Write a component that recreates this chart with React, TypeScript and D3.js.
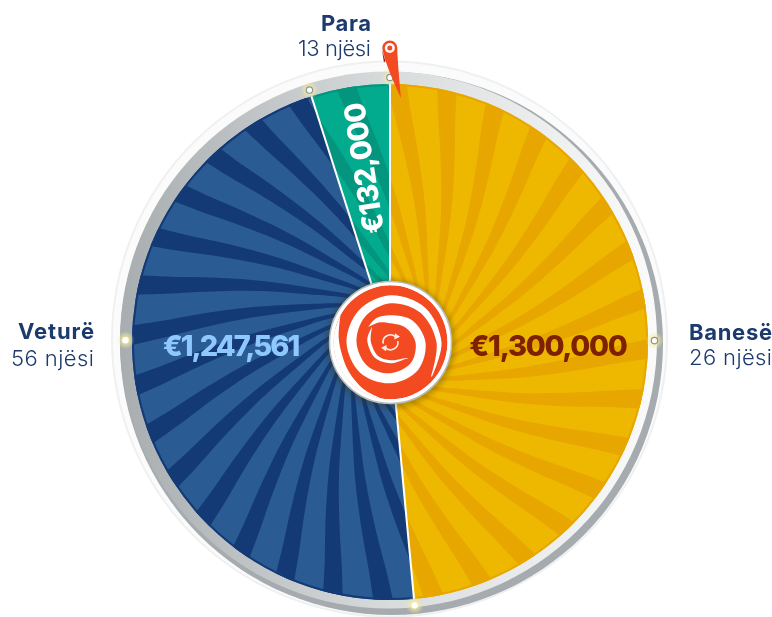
import React from "react";
import * as d3 from "d3";

const categories = ["Banesë", "Veturë", "Para"];
const amounts = [1300000, 1247561, 132000];
const amountLabels = ["€1,300,000", "€1,247,561", "€132,000"];
const unitLabels = ["26 njësi", "56 njësi", "13 njësi"];
const sliceColors = ["#eeb800", "#2a5b92", "#03ab8e"];
const rayColors = ["#e8a600", "#143a76", "#03957d"];
const amountColors = ["#7d2100", "#8ec8ff", "#ffffff"];
const rayCount = d3.range(32);
const twistStops: [number, number][] = [[264, -1.2], [230, 0.6], [200, 3], [170, 6], [139, 10], [110, 15], [85, 22], [70, 29], [55, 40]];
const sideMarkerAngles = [89.7, 270.4];

const W = 772, H = 617, CX = 390, CY = 342, R = 258;
const rad = (d: number) => (d * Math.PI) / 180;
const NAVY = "#1d3a6e";
const FONT = "Inter, 'Noto Sans', sans-serif";

const whiteMain: [number, number, number][] = [
  [-55, 27, 27], [-30, 23, 28], [0, 19, 27], [45, 21, 31], [90, 25, 35], [135, 29, 39], [180, 31, 41], [225, 33, 43], [270, 34, 44], [315, 36, 45], [360, 39, 47], [405, 42, 49], [450, 46, 51], [490, 53, 54],
];
const whiteLens: [number, number, number][] = [
  [-62, 56.8, 57], [-85, 52, 57.5], [-105, 50, 57.5], [-125, 51, 57.5], [-150, 54, 57.5], [-170, 56.8, 57.5],
];
const whiteCrescent: [number, number, number][] = [
  [-50, 24, 24], [-75, 20.5, 23.5], [-90, 19.5, 23], [-135, 18.5, 22], [-180, 18, 21], [-215, 20, 21.5], [-229, 24, 24],
];

const spiral = d3
  .areaRadial<[number, number, number]>()
  .angle((d) => rad(d[0]))
  .innerRadius((d) => d[1])
  .outerRadius((d) => d[2])
  .curve(d3.curveCatmullRom);

const rayShape = (k: number) => {
  const base = 2.45 + 11.25 * k;
  const pts = (sign: number) =>
    twistStops.map(([r, t]) => {
      const a = rad(base + t + sign * 2.2);
      return [r * Math.sin(a), -r * Math.cos(a)] as [number, number];
    });
  const line = d3.line().curve(d3.curveCatmullRom);
  const a = line(pts(-1)) as string;
  const b = line(pts(1).reverse()) as string;
  return `${a}L${b.slice(1)}Z`;
};

export default function App() {
  React.useEffect(() => {
    document.body.style.margin = "0";
  }, []);
  const pie = d3.pie<number>().sort(null).startAngle(0).endAngle(2 * Math.PI);
  const arcs = pie(amounts);
  const slice = d3.arc<d3.PieArcDatum<number>>().innerRadius(0).outerRadius(R);
  const edge = d3.arc<d3.PieArcDatum<number>>().innerRadius(R - 2).outerRadius(R);
  const polar = (deg: number, r: number) => [CX + r * Math.sin(rad(deg)), CY - r * Math.cos(rad(deg))];
  const boundaries = arcs.map((a) => (a.startAngle * 180) / Math.PI);
  const markers = [...boundaries, ...sideMarkerAngles].map((deg) => polar(deg, 264.5));
  const mids = arcs.map((a) => ((a.startAngle + a.endAngle) * 90) / Math.PI);
  const refresh = d3.arc();
  const bold = { fontFamily: FONT, fontWeight: 700, fontSize: 22, fill: NAVY } as const;
  const light = { fontFamily: FONT, fontWeight: 300, fontSize: 22, fill: NAVY } as const;

  return (
    <svg width={W} height={H} viewBox={`0 0 ${W} ${H}`} style={{ position: "fixed", left: 0, top: 0, display: "block" }}>
      <defs>
        <linearGradient id="rim" x1="0" x2="1" y1="0" y2="0">
          <stop offset="0" stopColor="#a8adb0" />
          <stop offset="0.5" stopColor="#d8dbdc" />
          <stop offset="1" stopColor="#fbfbfb" />
        </linearGradient>
        <radialGradient id="glow">
          <stop offset="0.2" stopColor="#f4ec9a" stopOpacity="0.95" />
          <stop offset="1" stopColor="#f4ec9a" stopOpacity="0" />
        </radialGradient>
        <filter id="blur" x="-20%" y="-20%" width="140%" height="140%">
          <feGaussianBlur stdDeviation="2.5" />
        </filter>
        {arcs.map((a, i) => (
          <clipPath id={`clip${i}`} key={i}>
            <path d={slice(a) as string} transform={`translate(${CX},${CY})`} />
          </clipPath>
        ))}
        <clipPath id="hubClip">
          <circle cx={390.5} cy={342.3} r={57} />
        </clipPath>
      </defs>

      <circle cx={389.5} cy={339} r={278.5} fill="#eff1f1" />
      <circle cx={389.5} cy={339} r={276.5} fill="#fbfbfb" />
      <circle cx={391.5} cy={343.5} r={271.5} fill="#a5abaf" />
      <circle cx={388.5} cy={340} r={268.5} fill="url(#rim)" />

      {arcs.map((a, i) => (
        <g key={i}>
          <path d={slice(a) as string} transform={`translate(${CX},${CY})`} fill={sliceColors[i]} />
          <g clipPath={`url(#clip${i})`}>
            <g transform={`translate(${CX},${CY})`}>
              {rayCount.map((k) => (
                <path key={k} d={rayShape(k)} fill={rayColors[i]} />
              ))}
            </g>
          </g>
          <path d={edge(a) as string} transform={`translate(${CX},${CY})`} fill={rayColors[i]} />
        </g>
      ))}

      {boundaries.map((deg, i) => {
        const [x, y] = polar(deg, R);
        return <line key={i} x1={CX} y1={CY} x2={x} y2={y} stroke="#ffffff" strokeWidth={2} />;
      })}

      {markers.map(([x, y], i) => (
        <g key={i}>
          <circle cx={x} cy={y} r={9} fill="url(#glow)" />
          <circle cx={x} cy={y} r={3.2} fill="#ffffff" stroke={i === 1 || i === 4 ? "#fff" : "#8e9397"} strokeWidth={i === 1 || i === 4 ? 0 : 1.2} />
        </g>
      ))}

      <circle cx={390.5} cy={344} r={65} fill="#3a3000" opacity={0.28} filter="url(#blur)" />
      <circle cx={390.5} cy={342.5} r={61} fill="#ffffff" stroke="#b9bcbf" strokeWidth={1.5} />
      <g clipPath="url(#hubClip)">
        <circle cx={390.5} cy={342.3} r={57} fill="#f34a22" />
        <g transform="translate(390.5,342.3)">
          <path d={spiral(whiteMain) as string} fill="#ffffff" />
          <path d={spiral(whiteLens) as string} fill="#ffffff" />
          <path d={spiral(whiteCrescent) as string} fill="#ffffff" />
        </g>
      </g>
      <g transform="translate(390.5,342.3)" fill="#ffeee8">
        <path d={refresh({ innerRadius: 6.6, outerRadius: 8.2, startAngle: rad(-100), endAngle: rad(50) } as any) as string} />
        <path d={refresh({ innerRadius: 6.6, outerRadius: 8.2, startAngle: rad(80), endAngle: rad(230) } as any) as string} />
        <path d="M4.5,-9 L9.5,-5.5 L3.8,-2.8Z" />
        <path d="M-4.5,9 L-9.5,5.5 L-3.8,2.8Z" />
      </g>

      <path d="M382.3,48 C382.3,43.8 385.7,40.5 389.8,40.5 C394,40.5 397.3,43.8 397.3,48 C397.3,54 398.5,70 401,98 C395,85 384.5,62 382.3,48Z" fill="#f34a22" />
      <path d="M382.3,48 C382.6,52 384,57 385.5,61 L384,62.5 C383,57 382.3,52 382.3,48Z" fill="#a8200a" />
      <circle cx={389.8} cy={48} r={5} fill="#ffffff" />
      <circle cx={389.8} cy={48} r={2.5} fill="#f34a22" />

      <text x={548} y={355.5} textAnchor="middle" fontFamily={FONT} fontWeight={800} fontSize={29} letterSpacing={-1.3} fill={amountColors[0]}>{amountLabels[0]}</text>
      <text x={230.5} y={355.5} textAnchor="middle" fontFamily={FONT} fontWeight={800} fontSize={29} letterSpacing={-2} fill={amountColors[1]}>{amountLabels[1]}</text>
      <text transform={`translate(${polar(mids[2], 178)[0] + 11.5},${polar(mids[2], 178)[1] + 1}) rotate(${mids[2] - 360 - 90})`} textAnchor="middle" fontFamily={FONT} fontWeight={800} fontSize={29} letterSpacing={-1.1} fill={amountColors[2]}>{amountLabels[2]}</text>

      <text x={689} y={340} {...bold} textLength={83}>{categories[0]}</text>
      <text x={689} y={365} {...light} textLength={83}>{unitLabels[0]}</text>
      <text x={18} y={339} {...bold} textLength={76}>{categories[1]}</text>
      <text x={11} y={366} {...light} textLength={83}>{unitLabels[1]}</text>
      <text x={321} y={31} {...bold} textLength={50}>{categories[2]}</text>
      <text x={298} y={56} {...light} textLength={73}>{unitLabels[2]}</text>
    </svg>
  );
}
